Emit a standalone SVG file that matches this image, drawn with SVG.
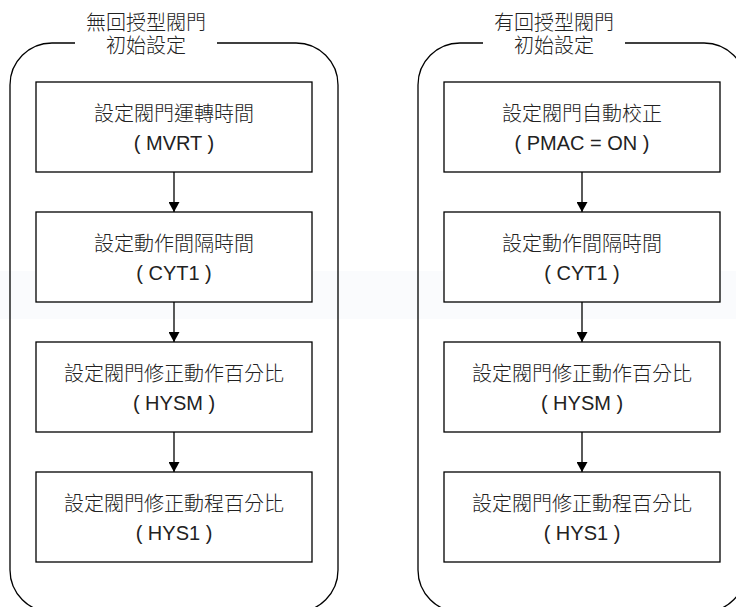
<svg xmlns="http://www.w3.org/2000/svg" width="736" height="607" viewBox="0 0 736 607">
<style>
.frame{fill:none;stroke:#000;stroke-width:1.3}
.box{fill:#fff;stroke:#000;stroke-width:1.3}
.t{font-family:"Liberation Sans","Noto Sans CJK TC",sans-serif;font-size:20px;font-weight:300;fill:#222;text-anchor:middle}
.conn{stroke:#000;stroke-width:1.3;fill:none;marker-end:url(#ah)}
</style>
<defs>
<marker id="ah" markerWidth="10" markerHeight="11" refX="10" refY="5.5" orient="auto" markerUnits="userSpaceOnUse">
<path d="M0,0 L10,5.5 L0,11 Z" fill="#000"/>
</marker>
</defs>
<rect width="736" height="607" fill="#fff"/>
<rect x="0" y="271" width="736" height="48" fill="#fafbfd"/>
<g id="group-left">
<path class="frame" d="M75,43 L52,43 A42,42 0 0 0 10,85 L10,570 A42,42 0 0 0 52,612 L296,612 A42,42 0 0 0 338,570 L338,85 A42,42 0 0 0 296,43 L217,43"/>
<text class="t" x="146" y="30">無回授型閥門</text>
<text class="t" x="146" y="53">初始設定</text>
</g>
<g id="group-right">
<path class="frame" d="M483,43 L460,43 A42,42 0 0 0 418,85 L418,570 A42,42 0 0 0 460,612 L704,612 A42,42 0 0 0 746,570 L746,85 A42,42 0 0 0 704,43 L625,43"/>
<text class="t" x="554" y="30">有回授型閥門</text>
<text class="t" x="554" y="53">初始設定</text>
</g>
<g id="L1"><rect class="box" x="36" y="82" width="276" height="90"/><text class="t" x="174" y="121">設定閥門運轉時間</text><text class="t" x="174" y="150">( MVRT )</text></g>
<g id="L2"><rect class="box" x="36" y="212" width="276" height="90"/><text class="t" x="174" y="251">設定動作間隔時間</text><text class="t" x="174" y="280">( CYT1 )</text></g>
<g id="L3"><rect class="box" x="36" y="342" width="276" height="90"/><text class="t" x="174" y="381">設定閥門修正動作百分比</text><text class="t" x="174" y="410">( HYSM )</text></g>
<g id="L4"><rect class="box" x="36" y="472" width="276" height="90"/><text class="t" x="174" y="511">設定閥門修正動程百分比</text><text class="t" x="174" y="540">( HYS1 )</text></g>
<g id="R1"><rect class="box" x="444" y="82" width="276" height="90"/><text class="t" x="582" y="121">設定閥門自動校正</text><text class="t" x="582" y="150">( PMAC = ON )</text></g>
<g id="R2"><rect class="box" x="444" y="212" width="276" height="90"/><text class="t" x="582" y="251">設定動作間隔時間</text><text class="t" x="582" y="280">( CYT1 )</text></g>
<g id="R3"><rect class="box" x="444" y="342" width="276" height="90"/><text class="t" x="582" y="381">設定閥門修正動作百分比</text><text class="t" x="582" y="410">( HYSM )</text></g>
<g id="R4"><rect class="box" x="444" y="472" width="276" height="90"/><text class="t" x="582" y="511">設定閥門修正動程百分比</text><text class="t" x="582" y="540">( HYS1 )</text></g>
<g id="connectors">
<line class="conn" x1="174" y1="172" x2="174" y2="212"/>
<line class="conn" x1="174" y1="302" x2="174" y2="342"/>
<line class="conn" x1="174" y1="432" x2="174" y2="472"/>
<line class="conn" x1="582" y1="172" x2="582" y2="212"/>
<line class="conn" x1="582" y1="302" x2="582" y2="342"/>
<line class="conn" x1="582" y1="432" x2="582" y2="472"/>
</g>
</svg>
